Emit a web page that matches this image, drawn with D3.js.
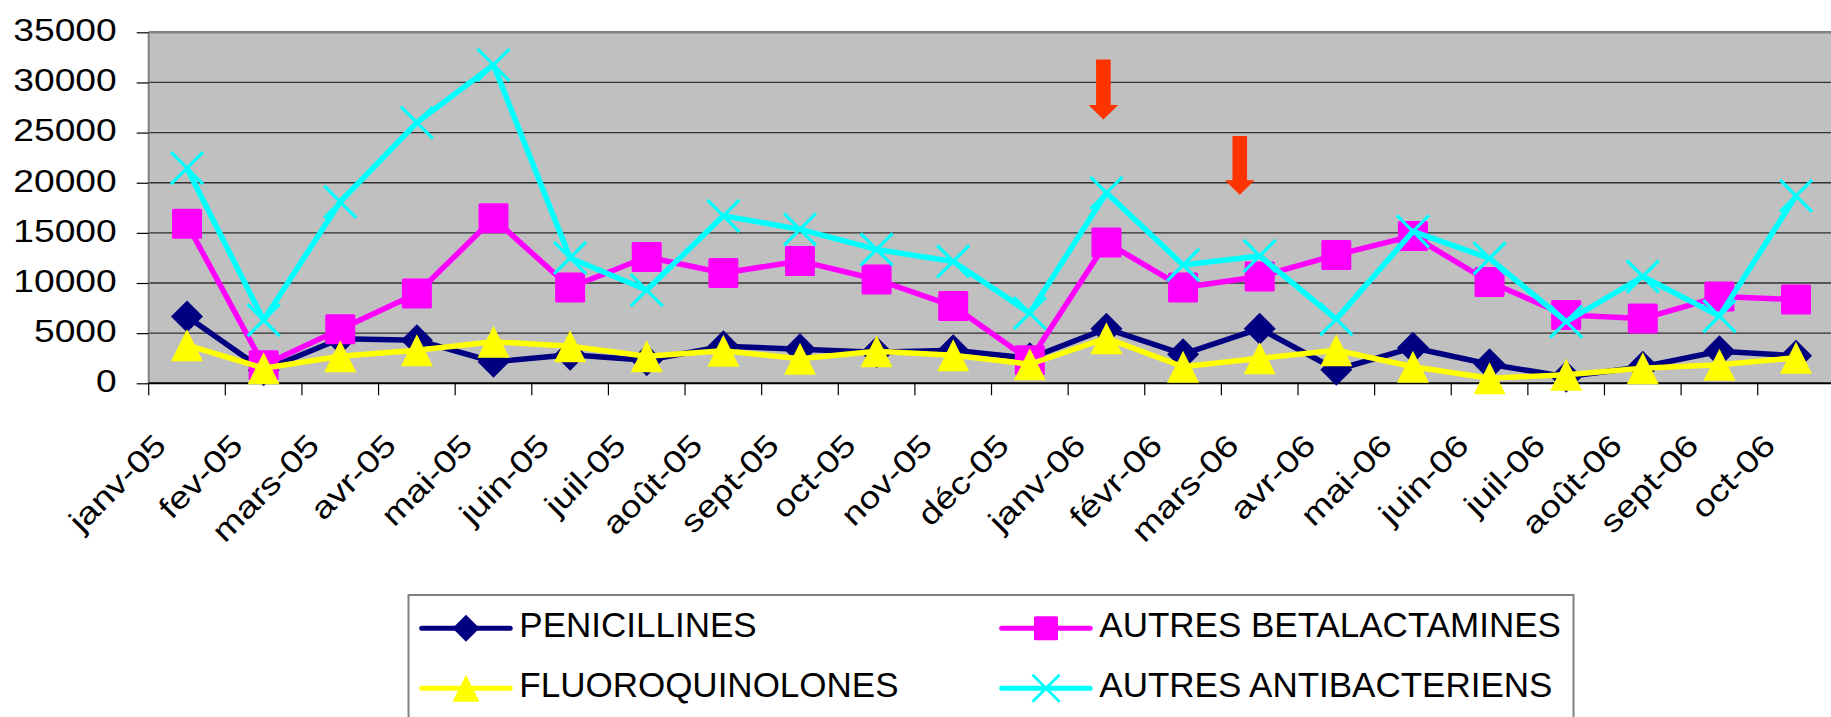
<!DOCTYPE html>
<html>
<head>
<meta charset="utf-8">
<script src="https://cdn.jsdelivr.net/npm/d3@7/dist/d3.min.js"></script>
<style>
html,body{margin:0;padding:0;background:#fff;}
svg{display:block;}
text{font-family:Arial,"Liberation Sans",sans-serif;fill:#000;}
</style>
</head>
<body>
<svg id="chart" width="1831" height="717"></svg>
<script>
// ---------- DATA ----------
const categories = ["janv-05","fev-05","mars-05","avr-05","mai-05","juin-05","juil-05","août-05","sept-05","oct-05","nov-05","déc-05","janv-06","févr-06","mars-06","avr-06","mai-06","juin-06","juil-06","août-06","sept-06","oct-06"];
const penicillines = [6650,1300,4450,4300,2150,2850,2300,3700,3400,3100,3300,2500,5450,2900,5450,1350,3550,1900,650,1650,3200,2750];
const autresBetalactamines = [15900,1800,5400,8950,16450,9550,12600,11000,12200,10350,7700,2300,14050,9550,10650,12800,14700,10100,6800,6450,8650,8350];
const fluoroquinolones = [3800,1500,2700,3300,4150,3700,2700,3250,2450,3200,2800,1900,4500,1650,2500,3300,1650,500,850,1500,1850,2550];
const autresAntibacteriens = [21450,6300,18100,26000,31750,12500,9300,16700,15350,13350,12150,7000,19000,11800,12700,6400,15150,12450,6150,10650,6700,18700];
const seriesNames = ["PENICILLINES","AUTRES BETALACTAMINES","FLUOROQUINOLONES","AUTRES ANTIBACTERIENS"];
const yTicks = [0,5000,10000,15000,20000,25000,30000,35000];
// annotation arrows: position in category units, top value, tip value
const arrowPos = [11.96, 13.74];
const arrowTop = [32300, 24650];
const arrowTip = [26300, 18800];

// ---------- LAYOUT ----------
const svg = d3.select("#chart");
const plotL = 148.7, plotT = 32.3, plotB = 383.3, step = 76.62;
const plotR = plotL + step * categories.length;
const x = d3.scaleBand().domain(categories).range([plotL, plotR]).paddingInner(0).paddingOuter(0);
const xc = c => x(c) + x.bandwidth() / 2;
const xPos = d3.scaleLinear().domain([0, categories.length]).range([plotL + step/2, plotR + step/2]);
const y = d3.scaleLinear().domain([0, 35000]).range([plotB, plotT]);

const series = [
  {name: seriesNames[0], values: penicillines, color: "#000080", marker: "diamond"},
  {name: seriesNames[1], values: autresBetalactamines, color: "#FF00FF", marker: "square"},
  {name: seriesNames[2], values: fluoroquinolones, color: "#FFFF00", marker: "triangle"},
  {name: seriesNames[3], values: autresAntibacteriens, color: "#00FFFF", marker: "x"}
];

// plot background
svg.append("rect").attr("x", plotL).attr("y", plotT).attr("width", plotR - plotL).attr("height", plotB - plotT).attr("fill", "#C0C0C0");

// gridlines
svg.append("g").selectAll("line").data(yTicks.filter(t => t > 0 && t < 35000)).join("line")
  .attr("x1", plotL).attr("x2", plotR).attr("y1", d => y(d)).attr("y2", d => y(d))
  .attr("stroke", "#303030").attr("stroke-width", 1.3);
// top border
svg.append("line").attr("x1", plotL).attr("x2", plotR).attr("y1", y(35000)).attr("y2", y(35000))
  .attr("stroke", "#808080").attr("stroke-width", 2.5);
// left axis line
svg.append("line").attr("x1", plotL).attr("x2", plotL).attr("y1", plotT).attr("y2", plotB)
  .attr("stroke", "#808080").attr("stroke-width", 2);

// y axis
const yAxis = d3.axisLeft(y).tickValues(yTicks).tickSize(12).tickPadding(0).tickFormat(d3.format("d"));
const gy = svg.append("g").attr("transform", `translate(${plotL},0)`).call(yAxis);
gy.select(".domain").remove();
gy.selectAll(".tick line").attr("stroke", "#000").attr("stroke-width", 1.2);
gy.selectAll(".tick text").remove();
gy.selectAll(".tick").append("text")
  .attr("text-anchor", "end")
  .attr("font-size", 31)
  .attr("transform", "translate(-32,8.4) scale(1.2,1)")
  .text(d => d);

// x axis
const xAxis = d3.axisBottom(x).tickSize(0).tickFormat(d => d);
const gx = svg.append("g").attr("transform", `translate(0,${plotB})`).call(xAxis);
gx.select(".domain").remove();
gx.selectAll(".tick text").remove();
svg.append("line").attr("x1", plotL).attr("x2", plotR).attr("y1", plotB).attr("y2", plotB)
  .attr("stroke", "#000").attr("stroke-width", 2);
// x tick marks at band boundaries
svg.append("g").selectAll("line").data(d3.range(categories.length + 1)).join("line")
  .attr("x1", i => plotL + i * x.step()).attr("x2", i => plotL + i * x.step())
  .attr("y1", plotB).attr("y2", plotB + 12).attr("stroke", "#000").attr("stroke-width", 1.2);
gx.selectAll(".tick").append("text")
  .attr("text-anchor", "end")
  .attr("font-size", 31)
  .attr("transform", "translate(-19,64) rotate(-45) scale(1.2,1)")
  .text(d => d);

// marker generator
function drawMarker(g, type, color, s) {
  const h = s / 2;
  if (type === "diamond") {
    g.append("path").attr("d", `M0,${-h}L${h},0L0,${h}L${-h},0Z`).attr("fill", color);
  } else if (type === "square") {
    g.append("rect").attr("x", -h).attr("y", -h).attr("width", s).attr("height", s).attr("rx", 1.5).attr("fill", color);
  } else if (type === "triangle") {
    g.append("path").attr("d", `M0,${-h}L${h},${h}L${-h},${h}Z`).attr("fill", color);
  } else if (type === "x") {
    g.append("path").attr("d", `M${-h},${-h}L${h},${h}M${h},${-h}L${-h},${h}`).attr("stroke", color).attr("stroke-width", s * 0.1).attr("fill", "none");
  }
}

// series
const line = d3.line().x((d, i) => xc(categories[i])).y(d => y(d));
series.forEach(s => {
  const g = svg.append("g");
  g.append("path").attr("d", line(s.values)).attr("fill", "none").attr("stroke", s.color)
    .attr("stroke-width", 5.5).attr("stroke-linejoin", "round");
  s.values.forEach((v, i) => {
    const m = g.append("g").attr("transform", `translate(${xc(categories[i])},${y(v)})`);
    drawMarker(m, s.marker, s.color, s.marker === "square" ? 30 : 32);
  });
});

// arrows
arrowPos.forEach((p, i) => {
  const cx = xPos(p), yt = y(arrowTop[i]), yp = y(arrowTip[i]);
  const headH = 14.5, sw = 7.3, hw = 14.8;
  svg.append("path")
    .attr("d", `M${cx - sw},${yt}L${cx + sw},${yt}L${cx + sw},${yp - headH}L${cx + hw},${yp - headH}L${cx},${yp}L${cx - hw},${yp - headH}L${cx - sw},${yp - headH}Z`)
    .attr("fill", "#FF3300");
});

// legend
const leg = svg.append("g");
leg.append("rect").attr("x", 408.5).attr("y", 595).attr("width", 1165).attr("height", 200)
  .attr("fill", "#fff").attr("stroke", "#808080").attr("stroke-width", 2);
const legPos = [[421.7, 628.3], [1001.7, 628.3], [421.7, 688.3], [1001.7, 688.3]];
series.forEach((s, i) => {
  const [lx, ly] = legPos[i];
  const g = leg.append("g").attr("transform", `translate(${lx},${ly})`);
  g.append("line").attr("x1", 0).attr("x2", 88.5).attr("y1", 0).attr("y2", 0)
    .attr("stroke", s.color).attr("stroke-width", 5).attr("stroke-linecap", "round");
  const m = g.append("g").attr("transform", "translate(44.3,0)");
  drawMarker(m, s.marker, s.color, s.marker === "square" ? 24 : 27);
  g.append("text").attr("x", 97.6).attr("y", 9).attr("font-size", 35).text(s.name);
});
</script>
</body>
</html>
